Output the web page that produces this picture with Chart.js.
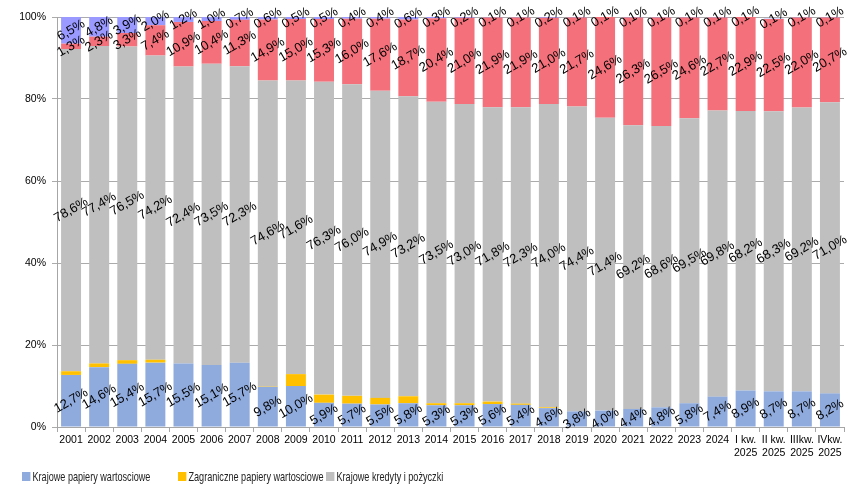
<!DOCTYPE html>
<html>
<head>
<meta charset="utf-8">
<script src="https://cdn.jsdelivr.net/npm/chart.js@4"></script>
<style>
  html, body { margin: 0; padding: 0; background: #fff; }
  #wrap { position: relative; width: 848px; height: 486px; }
  .leg { position: absolute; top: 469px; font: 13px "Liberation Sans", sans-serif; color: #222; white-space: nowrap; transform: scaleX(0.7); transform-origin: left center; }
  .leg i { display: inline-block; width: 12px; height: 9px; margin-right: 3px; vertical-align: 0px; }
</style>
</head>
<body>
<div id="wrap">
  <canvas id="chart" width="848" height="486"></canvas>
  <div class="leg" style="left:22px"><i style="background:#8FAADC"></i>Krajowe papiery wartosciowe</div>
  <div class="leg" style="left:178px"><i style="background:#FFC000"></i>Zagraniczne papiery wartosciowe</div>
  <div class="leg" style="left:326px"><i style="background:#BFBFBF"></i>Krajowe kredyty i pożyczki</div>
</div>
<script>
// categories
const labels = ['2001', '2002', '2003', '2004', '2005', '2006', '2007', '2008', '2009', '2010',
    '2011', '2012', '2013', '2014', '2015', '2016', '2017', '2018', '2019', '2020',
    '2021', '2022', '2023', '2024', ['I kw.', '2025'], ['II kw.', '2025'], ['IIIkw.', '2025'], ['IVkw.', '2025']];

// shares in %
const krajowePapiery = [12.7, 14.6, 15.4, 15.7, 15.5, 15.1, 15.7, 9.8, 10.0, 5.9,
    5.7, 5.5, 5.8, 5.3, 5.3, 5.6, 5.4, 4.6, 3.8, 4.0,
    4.4, 4.8, 5.8, 7.4, 8.9, 8.7, 8.7, 8.2];
const zagranicznePapiery = [0.9, 0.9, 0.9, 0.7, 0.0, 0.0, 0.0, 0.1, 2.9, 2.0,
    1.9, 1.6, 1.7, 0.5, 0.5, 0.6, 0.3, 0.2, 0.0, 0.0,
    0.0, 0.0, 0.0, 0.0, 0.0, 0.0, 0.0, 0.0];
const krajoweKredyty = [78.6, 77.4, 76.5, 74.2, 72.4, 73.5, 72.3, 74.6, 71.6, 76.3,
    76.0, 74.9, 73.2, 73.5, 73.0, 71.8, 72.3, 74.0, 74.4, 71.4,
    69.2, 68.6, 69.5, 69.8, 68.2, 68.3, 69.2, 71.0];
const seriaCzerwona = [1.3, 2.3, 3.3, 7.4, 10.9, 10.4, 11.3, 14.9, 15.0, 15.3,
    16.0, 17.6, 18.7, 20.4, 21.0, 21.9, 21.9, 21.0, 21.7, 24.6,
    26.3, 26.5, 24.6, 22.7, 22.9, 22.5, 22.0, 20.7];
const seriaFioletowa = [6.5, 4.8, 3.9, 2.0, 1.2, 1.0, 0.7, 0.6, 0.5, 0.5,
    0.4, 0.4, 0.6, 0.3, 0.2, 0.1, 0.1, 0.2, 0.1, 0.1,
    0.1, 0.1, 0.1, 0.1, 0.1, 0.1, 0.1, 0.1];

const yTicks = [0, 20, 40, 60, 80, 100];

// rotated value labels drawn on the bar segments
const valueLabels = {
    id: 'valueLabels',
    afterDatasetsDraw(chart) {
        const ctx = chart.ctx;
        ctx.save();
        ctx.font = '13px "Liberation Sans", sans-serif';
        ctx.fillStyle = '#000';
        ctx.textAlign = 'center';
        ctx.textBaseline = 'middle';
        chart.data.datasets.forEach((ds, i) => {
            if (!ds.showValues) return;
            const meta = chart.getDatasetMeta(i);
            meta.data.forEach((bar, j) => {
                const y = (bar.y + bar.base) / 2;
                const text = ds.data[j].toFixed(1).replace('.', ',') + '%';
                ctx.save();
                ctx.translate(bar.x, y);
                ctx.rotate(-Math.PI / 6);
                ctx.fillText(text, 0, 0);
                ctx.restore();
            });
        });
        ctx.restore();
    }
};

const barOpts = { barPercentage: 0.71, categoryPercentage: 1.0 };

new Chart(document.getElementById('chart'), {
    type: 'bar',
    data: {
        labels: labels,
        datasets: [
            { label: 'Krajowe papiery wartosciowe', data: krajowePapiery, backgroundColor: '#8FAADC', showValues: true, ...barOpts },
            { label: 'Zagraniczne papiery wartosciowe', data: zagranicznePapiery, backgroundColor: '#FFC000', showValues: false, ...barOpts },
            { label: 'Krajowe kredyty i pożyczki', data: krajoweKredyty, backgroundColor: '#BFBFBF', showValues: true, ...barOpts },
            { label: 'Inne', data: seriaCzerwona, backgroundColor: '#F4717B', showValues: true, ...barOpts },
            { label: 'Pozostałe', data: seriaFioletowa, backgroundColor: '#9999FF', showValues: true, ...barOpts }
        ]
    },
    options: {
        responsive: false,
        animation: false,
        layout: { padding: { top: 17, right: 4, left: 0, bottom: 0 } },
        plugins: {
            legend: { display: false },
            tooltip: { enabled: false }
        },
        scales: {
            x: {
                stacked: true,
                offset: true,
                grid: { display: true, drawOnChartArea: false, offset: true, color: '#A6A6A6', tickLength: 5 },
                border: { color: '#A6A6A6' },
                ticks: {
                    font: { family: 'Liberation Sans', size: 10.5 },
                    color: '#000',
                    padding: 2,
                    maxRotation: 0,
                    autoSkip: false
                },
                afterFit: function(scale) { scale.height = 59; }
            },
            y: {
                stacked: true,
                min: 0,
                max: 100,
                afterBuildTicks: function(scale) { scale.ticks = yTicks.map(v => ({ value: v })); },
                grid: { color: '#ABABAB', tickLength: 5 },
                border: { color: '#A6A6A6' },
                ticks: {
                    font: { family: 'Liberation Sans', size: 10.5 },
                    color: '#000',
                    padding: 6,
                    callback: v => v + '%'
                },
                afterFit: function(scale) { scale.width = 57; }
            }
        }
    },
    plugins: [valueLabels]
});
</script>
</body>
</html>
